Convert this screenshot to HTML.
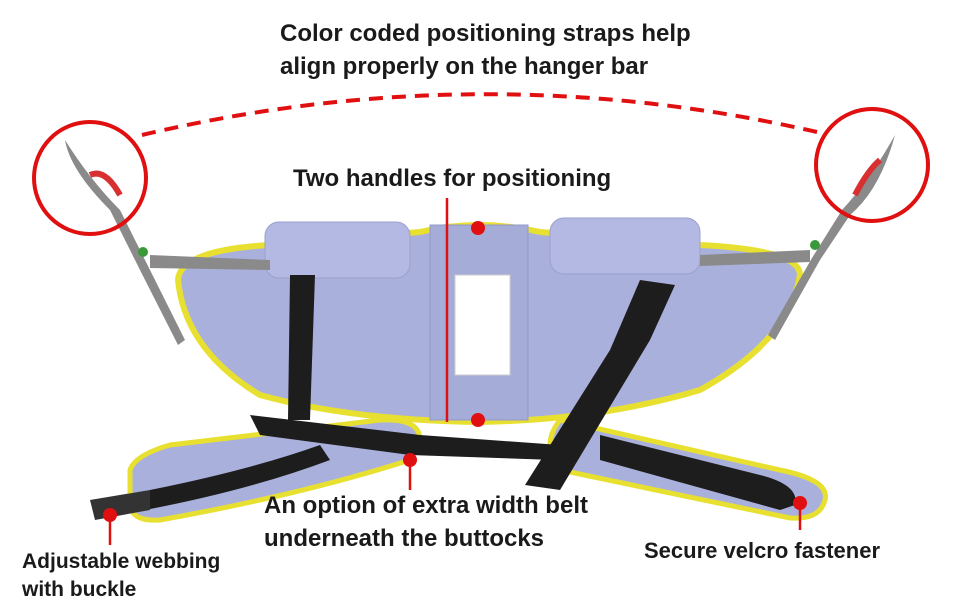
<!DOCTYPE html>
<html><head><meta charset="utf-8"><style>
body{margin:0;background:#fff;}
svg{display:block}
text{font-family:"Liberation Sans",sans-serif;font-weight:bold;fill:#1a1a1a;}
</style></head><body>
<svg width="970" height="600" viewBox="0 0 970 600" xmlns="http://www.w3.org/2000/svg">
<rect width="970" height="600" fill="#fff"/>
<!-- lower pads -->
<path d="M130,470 Q135,455 170,445 L380,420 Q420,418 420,440 L410,460 Q300,495 160,520 Q128,522 130,500 Z" fill="#aab0dc" stroke="#e8e030" stroke-width="5"/>
<path d="M560,420 L780,470 Q830,480 825,500 Q820,520 790,518 L560,470 Q540,445 560,420 Z" fill="#aab0dc" stroke="#e8e030" stroke-width="5"/>
<!-- main body -->
<path d="M178,280 Q180,250 270,245 L420,232 Q478,218 540,232 L700,245 Q800,250 800,275 Q790,340 700,390 Q600,420 478,422 Q350,420 260,395 Q185,350 178,280 Z" fill="#aab0dc" stroke="#e8e030" stroke-width="6"/>
<!-- pillows -->
<rect x="265" y="222" width="145" height="56" rx="14" fill="#b4b9e4" stroke="#9aa0cc"/>
<rect x="550" y="218" width="150" height="56" rx="14" fill="#b4b9e4" stroke="#9aa0cc"/>
<rect x="430" y="225" width="98" height="195" fill="#a6acd8" stroke="#9298c8"/>
<!-- label -->
<rect x="455" y="275" width="55" height="100" fill="#fff" stroke="#ccc"/>
<!-- straps -->
<path d="M290,275 L315,275 L310,420 L288,420 Z" fill="#1d1d1d"/>
<path d="M250,415 L420,435 L560,445 L555,460 L410,455 L260,435 Z" fill="#1d1d1d"/>
<path d="M640,280 L675,285 L650,340 L560,490 L525,485 L610,350 Z" fill="#1d1d1d"/>
<path d="M150,490 Q250,470 320,445 L330,460 Q250,490 145,510 Z" fill="#1d1d1d"/>
<path d="M600,435 L760,475 Q800,485 795,505 L780,510 L600,460 Z" fill="#1d1d1d"/>
<path d="M90,500 L150,490 L150,510 L95,520 Z" fill="#333"/>
<!-- side straps -->
<path d="M65,140 Q90,180 120,210 L150,270 L185,340 L178,345 L140,270 L110,210 Q70,170 65,140 Z" fill="#8a8a8a"/>
<path d="M895,135 Q880,190 850,215 L820,260 L775,340 L768,335 L812,258 L842,210 Q870,180 895,135 Z" fill="#8a8a8a"/>
<path d="M150,255 L270,260 L270,270 L150,268 Z" fill="#8a8a8a"/>
<path d="M700,255 L810,250 L810,262 L700,266 Z" fill="#8a8a8a"/>
<path d="M90,175 Q105,168 120,195" stroke="#d83030" stroke-width="6" fill="none"/>
<path d="M880,160 Q868,170 855,195" stroke="#d83030" stroke-width="6" fill="none"/>
<circle cx="143" cy="252" r="5" fill="#3a9a3a"/>
<circle cx="815" cy="245" r="5" fill="#3a9a3a"/>
<!-- annotations -->
<circle cx="90" cy="178" r="56" fill="none" stroke="#e01010" stroke-width="4"/>
<circle cx="872" cy="165" r="56" fill="none" stroke="#e01010" stroke-width="4"/>
<path d="M142,135 Q480,55 817,132" fill="none" stroke="#e01010" stroke-width="4" stroke-dasharray="14,9"/>
<line x1="447" y1="198" x2="447" y2="422" stroke="#e01010" stroke-width="2.5"/>
<circle cx="478" cy="228" r="7" fill="#e01010"/>
<circle cx="478" cy="420" r="7" fill="#e01010"/>
<circle cx="410" cy="460" r="7" fill="#e01010"/>
<line x1="410" y1="460" x2="410" y2="490" stroke="#e01010" stroke-width="2.5"/>
<circle cx="110" cy="515" r="7" fill="#e01010"/>
<line x1="110" y1="515" x2="110" y2="545" stroke="#e01010" stroke-width="2.5"/>
<circle cx="800" cy="503" r="7" fill="#e01010"/>
<line x1="800" y1="503" x2="800" y2="530" stroke="#e01010" stroke-width="2.5"/>
<text x="280" y="41" font-size="24">Color coded positioning straps help</text>
<text x="280" y="74" font-size="24">align properly on the hanger bar</text>
<text x="293" y="186" font-size="24">Two handles for positioning</text>
<text x="264" y="513" font-size="24">An option of extra width belt</text>
<text x="264" y="546" font-size="24">underneath the buttocks</text>
<text x="22" y="568" font-size="21">Adjustable webbing</text>
<text x="22" y="596" font-size="21">with buckle</text>
<text x="644" y="558" font-size="22">Secure velcro fastener</text>
</svg>
</body></html>
